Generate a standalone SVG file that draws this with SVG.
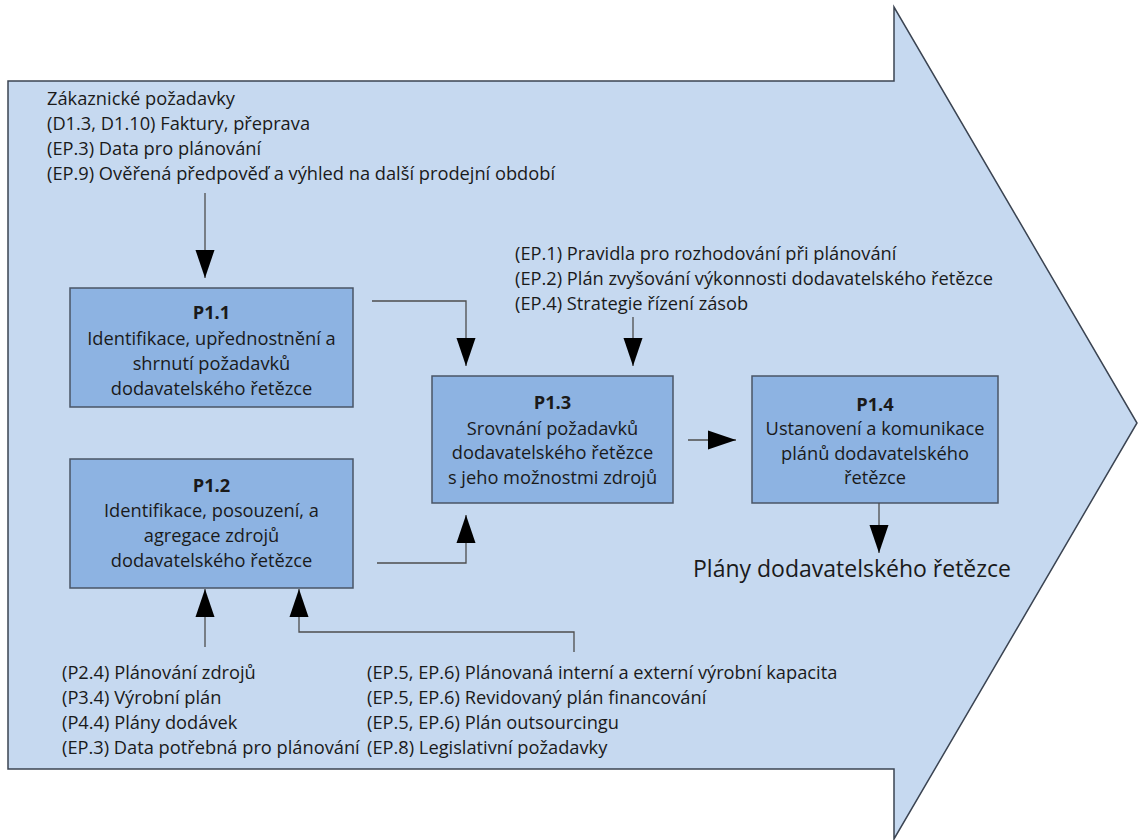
<svg xmlns="http://www.w3.org/2000/svg" width="1138" height="840" viewBox="0 0 1138 840">
  <style>
    .t { font-family: "Open Sans", "Noto Sans", "Liberation Sans", sans-serif; font-size: 18.25px; fill: #1a1a1a; }
    .c { text-anchor: middle; }
    .b { font-weight: bold; }
    .big { font-size: 23px; }
    .box { fill: #8db3e2; stroke: #4a5566; stroke-width: 1.5; }
    .wire { fill: none; stroke: #4d4d4d; stroke-width: 1.3; marker-end: url(#head); }
  </style>
  <defs>
    <marker id="head" markerUnits="userSpaceOnUse" markerWidth="28" markerHeight="20" refX="28" refY="10" orient="auto">
      <path d="M0,0.5 L28,10 L0,19.5 Z" fill="#000"/>
    </marker>
  </defs>

  <!-- background process arrow -->
  <polygon id="process-arrow" points="8,81 894,81 894,7 1137,423 894,839 894,769 8,769" fill="#c6d9f0" stroke="#3b4452" stroke-width="1.5"/>

  <!-- input texts -->
  <g id="inputs-top">
    <text class="t" x="47" y="105">Zákaznické požadavky</text>
    <text class="t" x="47" y="130">(D1.3, D1.10) Faktury, přeprava</text>
    <text class="t" x="47" y="155">(EP.3) Data pro plánování</text>
    <text class="t" x="47" y="180">(EP.9) Ověřená předpověď a výhled na další prodejní období</text>
  </g>
  <g id="inputs-ep">
    <text class="t" x="515" y="260">(EP.1) Pravidla pro rozhodování při plánování</text>
    <text class="t" x="515" y="285">(EP.2) Plán zvyšování výkonnosti dodavatelského řetězce</text>
    <text class="t" x="515" y="310">(EP.4) Strategie řízení zásob</text>
  </g>
  <g id="inputs-bottom-left">
    <text class="t" x="62" y="679">(P2.4) Plánování zdrojů</text>
    <text class="t" x="62" y="704">(P3.4) Výrobní plán</text>
    <text class="t" x="62" y="729">(P4.4) Plány dodávek</text>
    <text class="t" x="62" y="754">(EP.3) Data potřebná pro plánování</text>
  </g>
  <g id="inputs-bottom-right">
    <text class="t" x="367" y="679">(EP.5, EP.6) Plánovaná interní a externí výrobní kapacita</text>
    <text class="t" x="367" y="704">(EP.5, EP.6) Revidovaný plán financování</text>
    <text class="t" x="367" y="729">(EP.5, EP.6) Plán outsourcingu</text>
    <text class="t" x="367" y="754">(EP.8) Legislativní požadavky</text>
  </g>

  <!-- process steps -->
  <g id="p1-1">
    <rect class="box" x="70" y="288" width="283" height="119"/>
    <text class="t c b" x="211.5" y="319">P1.1</text>
    <text class="t c" x="211.5" y="345">Identifikace, upřednostnění a</text>
    <text class="t c" x="211.5" y="370">shrnutí požadavků</text>
    <text class="t c" x="211.5" y="395">dodavatelského řetězce</text>
  </g>
  <g id="p1-2">
    <rect class="box" x="70" y="459" width="283" height="129"/>
    <text class="t c b" x="211.5" y="492">P1.2</text>
    <text class="t c" x="211.5" y="517">Identifikace, posouzení, a</text>
    <text class="t c" x="211.5" y="542">agregace zdrojů</text>
    <text class="t c" x="211.5" y="567">dodavatelského řetězce</text>
  </g>
  <g id="p1-3">
    <rect class="box" x="432" y="376" width="241" height="127"/>
    <text class="t c b" x="552.5" y="409">P1.3</text>
    <text class="t c" x="552.5" y="435">Srovnání požadavků</text>
    <text class="t c" x="552.5" y="459">dodavatelského řetězce</text>
    <text class="t c" x="552.5" y="484">s jeho možnostmi zdrojů</text>
  </g>
  <g id="p1-4">
    <rect class="box" x="752" y="376" width="246" height="127"/>
    <text class="t c b" x="875" y="411">P1.4</text>
    <text class="t c" x="875" y="435">Ustanovení a komunikace</text>
    <text class="t c" x="875" y="460">plánů dodavatelského</text>
    <text class="t c" x="875" y="484">řetězce</text>
  </g>

  <!-- output -->
  <g id="output">
    <text class="t big" x="693" y="577">Plány dodavatelského řetězce</text>
  </g>

  <!-- connectors -->
  <g id="connectors">
    <path class="wire" d="M205,193 V278"/>
    <path class="wire" d="M372,301 H466 V366"/>
    <path class="wire" d="M633,317 V366"/>
    <path class="wire" d="M688,440 H736"/>
    <path class="wire" d="M879,503 V553"/>
    <path class="wire" d="M377,563 H466 V515"/>
    <path class="wire" d="M205,647 V589"/>
    <path class="wire" d="M574,652 V632 H299 V589"/>
  </g>
</svg>
